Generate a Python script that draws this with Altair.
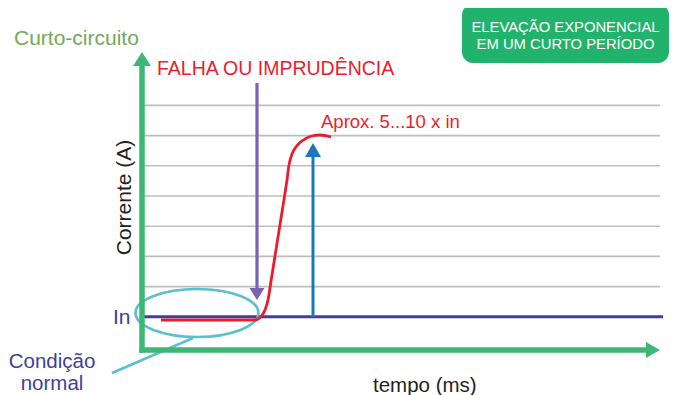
import altair as alt
import pandas as pd

# ---- values (time in arbitrary ms units, current in multiples of In)
grid_levels = [2, 3, 4, 5, 6, 7, 8]
grid_t = [0.1, 51.8]
rated_level = 1.0
rated_t = [0.0, 52.1]

curve_t = [1.9, 11.3, 11.8, 12.3, 12.6, 12.95, 13.3, 13.65, 14.0, 14.35, 14.5, 14.7, 15.0, 15.4, 15.8, 16.3, 16.8, 17.8, 18.9]
curve_i = [0.894, 0.894, 0.977, 1.225, 1.556, 2.285, 3.013, 3.742, 4.470, 5.199, 5.530, 6.026, 6.391, 6.623, 6.772, 6.887, 6.970, 7.020, 6.954]

fault_t = 11.5
fault_i = [8.74, 1.85]
fault_head_i = 1.755

peak_t = 17.1
peak_i = [1.0, 6.35]
peak_head_i = 6.523

yaxis_i = [-0.19, 9.37]
yaxis_head_i = 9.536
xaxis_i = -0.0993
xaxis_t = [-0.275, 50.7]
xaxis_head_t = 51.1

normal_center = (5.5, 1.126)
leader_t = [-3.0, 5.1]
leader_i = [-0.861, 0.298]

GREEN = "#3cb874"
BOX = "#21b36c"
RED = "#ec1c2e"
PURPLE = "#7b61b2"
BLUE = "#1c76bc"
INDIGO = "#403f98"
CYAN = "#5bbfcf"
GRID = "#bdbdbd"
FONT = "Liberation Sans"

W, H = 661, 387
xs = alt.Scale(domain=[-13.4, 52.7], nice=False, zero=False)
ys = alt.Scale(domain=[-1.5894, 11.2252], nice=False, zero=False)


def X(f):
    return alt.X(f, type="quantitative", scale=xs, axis=None)


def Y(f):
    return alt.Y(f, type="quantitative", scale=ys, axis=None)


grid_df = pd.DataFrame({"y": grid_levels, "t": grid_t[0], "t2": grid_t[1]})
grid = alt.Chart(grid_df).mark_rule(color=GRID, strokeWidth=1.6).encode(
    x=X("t"), x2="t2", y=Y("y"))

rated_df = pd.DataFrame({"y": [rated_level], "t": [rated_t[0]], "t2": [rated_t[1]]})
rated = alt.Chart(rated_df).mark_rule(color=INDIGO, strokeWidth=3).encode(
    x=X("t"), x2="t2", y=Y("y"))

ellipse_path = ("M-1,0 C-1,-0.2154 -0.5523,-0.39 0,-0.39 C0.5523,-0.39 1,-0.2154 1,0 "
                "C1,0.2154 0.5523,0.39 0,0.39 C-0.5523,0.39 -1,0.2154 -1,0 Z")
ell_df = pd.DataFrame({"t": [normal_center[0]], "y": [normal_center[1]]})
ellipse = alt.Chart(ell_df).mark_point(shape=ellipse_path, size=123 ** 2, filled=False,
                                       stroke=CYAN, strokeWidth=2.6, opacity=1).encode(
    x=X("t"), y=Y("y"))

leader_df = pd.DataFrame({"t": [leader_t[0]], "t2": [leader_t[1]], "y": [leader_i[0]], "y2": [leader_i[1]]})
leader = alt.Chart(leader_df).mark_rule(color=CYAN, strokeWidth=2.6).encode(
    x=X("t"), x2="t2", y=Y("y"), y2="y2")

curve_df = pd.DataFrame({"t": curve_t, "y": curve_i})
curve = alt.Chart(curve_df).mark_line(color=RED, strokeWidth=2.8, interpolate="monotone").encode(
    x=X("t"), y=Y("y"), order="t:Q")

fault_df = pd.DataFrame({"t": [fault_t], "y": [fault_i[0]], "y2": [fault_i[1]]})
fault = alt.Chart(fault_df).mark_rule(color=PURPLE, strokeWidth=3.2).encode(
    x=X("t"), y=Y("y"), y2="y2")
fault_head = alt.Chart(pd.DataFrame({"t": [fault_t], "y": [fault_head_i]})).mark_point(
    shape="M-1,-0.8 L1,-0.8 L0,0.8 Z", size=225, filled=True, color=PURPLE, opacity=1, strokeWidth=0
).encode(x=X("t"), y=Y("y"))

peak_df = pd.DataFrame({"t": [peak_t], "y": [peak_i[0]], "y2": [peak_i[1]]})
peak = alt.Chart(peak_df).mark_rule(color=BLUE, strokeWidth=3).encode(
    x=X("t"), y=Y("y"), y2="y2")
peak_head = alt.Chart(pd.DataFrame({"t": [peak_t], "y": [peak_head_i]})).mark_point(
    shape="M-1,0.875 L1,0.875 L0,-0.875 Z", size=256, filled=True, color=BLUE, opacity=1, strokeWidth=0
).encode(x=X("t"), y=Y("y"))

yaxis = alt.Chart(pd.DataFrame({"t": [0.0], "y": [yaxis_i[0]], "y2": [yaxis_i[1]]})).mark_rule(
    color=GREEN, strokeWidth=5.5).encode(x=X("t"), y=Y("y"), y2="y2")
yaxis_head = alt.Chart(pd.DataFrame({"t": [0.0], "y": [yaxis_head_i]})).mark_point(
    shape="M-1,0.778 L1,0.778 L0,-0.778 Z", size=324, filled=True, color=GREEN, opacity=1, strokeWidth=0
).encode(x=X("t"), y=Y("y"))
xaxis = alt.Chart(pd.DataFrame({"t": [xaxis_t[0]], "t2": [xaxis_t[1]], "y": [xaxis_i]})).mark_rule(
    color=GREEN, strokeWidth=5.5).encode(x=X("t"), x2="t2", y=Y("y"))
xaxis_head = alt.Chart(pd.DataFrame({"t": [xaxis_head_t], "y": [xaxis_i]})).mark_point(
    shape="M-0.875,-1 L0.875,0 L-0.875,1 Z", size=256, filled=True, color=GREEN, opacity=1, strokeWidth=0
).encode(x=X("t"), y=Y("y"))

one = pd.DataFrame({"k": [0]})
box = alt.Chart(one).mark_rect(color=BOX, cornerRadius=11).encode(
    x=alt.value(454), x2=alt.value(661), y=alt.value(-4), y2=alt.value(55))


def label(txt, x, y, size, color, align="left", font=FONT, angle=None, baseline="alphabetic"):
    kw = dict(align=align, baseline=baseline, font=font, fontSize=size, color=color)
    if angle is not None:
        kw["angle"] = angle
    return alt.Chart(pd.DataFrame({"label": [txt]})).mark_text(**kw).encode(
        text="label:N", x=alt.value(x), y=alt.value(y))


texts = [
    label("Curto-circuito", 6, 37, 21, "#78a75a"),
    label("FALHA OU IMPRUDÊNCIA", 149, 67, 19.5, RED),
    label("Aprox. 5...10 x in", 313, 120, 18.5, RED),
    label("ELEVAÇÃO EXPONENCIAL", 557.5, 24, 14.8, "white", align="center"),
    label("EM UM CURTO PERÍODO", 557.5, 41, 14.8, "white", align="center"),
    label("Corrente (A)", 117, 189.5, 21, "#231f20", align="center", angle=270, baseline="middle"),
    label("In", 105, 316, 21, INDIGO),
    label("tempo (ms)", 365, 384, 20.5, "#231f20"),
    label("Condição", 44, 360, 20.5, INDIGO, align="center"),
    label("normal", 44, 382, 20.5, INDIGO, align="center"),
]

chart = alt.layer(
    grid, rated, ellipse, leader, curve, fault, fault_head, peak, peak_head,
    yaxis, xaxis, yaxis_head, xaxis_head, box, *texts
).properties(
    width=W, height=H, padding=0, autosize=alt.AutoSizeParams(type="none"),
    background="white"
).configure_view(stroke=None)

chart.save("out.html", embed_options={"renderer": "svg", "actions": False})
